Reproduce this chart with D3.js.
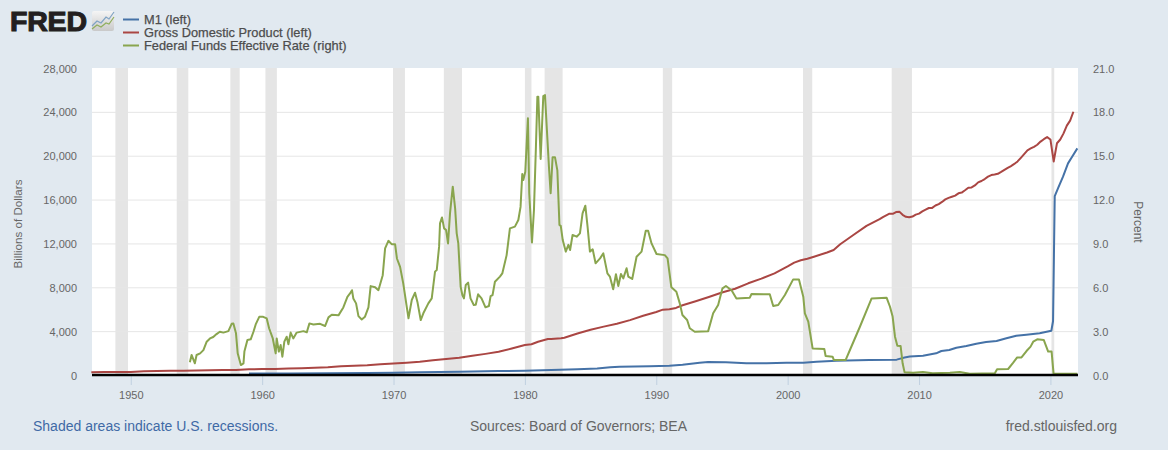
<!DOCTYPE html>
<html><head><meta charset="utf-8">
<script src="https://cdn.jsdelivr.net/npm/d3@7"></script>
<style>
html,body{margin:0;padding:0;background:#e1e9f0;overflow:hidden}
svg{display:block;font-family:"Liberation Sans",Arial,sans-serif}
</style></head><body><svg id="c" width="1168" height="450"></svg>
<script>
const yearTicks=[1950,1960,1970,1980,1990,2000,2010,2020];
const leftTicks=[0,4000,8000,12000,16000,20000,24000,28000];
const rightTicks=[0,3,6,9,12,15,18,21];
const legendLabels=["M1 (left)","Gross Domestic Product (left)","Federal Funds Effective Rate (right)"];
const seriesColors=["#4572a7","#aa4643","#89a54e"];
const recessions=[[1948.83,1949.79],[1953.5,1954.38],[1957.58,1958.29],[1960.25,1961.12],[1969.96,1970.87],[1973.83,1975.21],[1980,1980.5],[1981.5,1982.87],[1990.5,1991.21],[2001.17,2001.87],[2007.92,2009.46],[2020.08,2020.29]];
const m1=[[1959,139],[1962,147],[1965,165],[1968,190],[1970,207],[1972,240],[1975,290],[1978,355],[1980,385],[1982,445],[1984,530],[1985.5,590],[1986.5,700],[1987.2,745],[1989.5,790],[1991,850],[1992,942],[1993.3,1125],[1993.94,1180],[1995.3,1155],[1996.86,1070],[1998.4,1070],[1999.9,1125],[2001.2,1125],[2002.2,1200],[2003.7,1300],[2006.2,1370],[2008.3,1400],[2008.9,1590],[2009.3,1680],[2010.3,1763],[2011.3,1976],[2011.7,2190],[2012.3,2280],[2012.84,2490],[2013.6,2645],[2014.36,2858],[2015.1,3010],[2015.9,3100],[2016.65,3344],[2017.4,3587],[2018.17,3678],[2019.18,3800],[2020.07,4040],[2020.2,4900],[2020.33,16320],[2020.6,17100],[2020.96,18090],[2021.34,19300],[2021.7,20000],[2022.05,20670]];
const gdp=[[1947,243],[1948,266],[1949,275],[1949.75,272],[1950,281],[1951,336],[1952,360],[1953,386],[1954,391],[1955,415],[1956,440],[1957,464],[1958,466],[1959,514],[1960,543],[1961,545],[1962,590],[1963,622],[1964,671],[1965,713],[1966,792],[1967,835],[1968,890],[1969,983],[1970,1052],[1971,1127],[1972,1217],[1973,1349],[1974,1466],[1975,1569],[1976,1760],[1977,1926],[1978,2113],[1979,2420],[1980,2728],[1980.5,2800],[1981,3030],[1981.75,3280],[1982,3274],[1982.75,3344],[1983,3402],[1984,3785],[1985,4119],[1986,4412],[1987,4667],[1988,5008],[1989,5401],[1990,5747],[1990.5,5960],[1991,5996],[1991.5,6120],[1992,6363],[1993,6729],[1994,7116],[1995,7522],[1996,7868],[1997,8362],[1998,8787],[1999,9275],[2000,9901],[2000.5,10250],[2001,10470],[2001.5,10600],[2002,10783],[2003,11174],[2003.5,11400],[2004,11923],[2005,12767],[2006,13600],[2007,14216],[2007.25,14402],[2007.5,14564],[2007.75,14716],[2008,14706],[2008.25,14865],[2008.5,14899],[2008.75,14608],[2009,14430],[2009.25,14381],[2009.5,14449],[2009.75,14628],[2010,14721],[2010.25,14926],[2010.5,15080],[2010.75,15231],[2011,15242],[2011.25,15462],[2011.5,15588],[2011.75,15785],[2012,16019],[2012.25,16153],[2012.5,16257],[2012.75,16358],[2013,16569],[2013.25,16637],[2013.5,16848],[2013.75,17083],[2014,17105],[2014.25,17286],[2014.5,17570],[2014.75,17692],[2015,17874],[2015.25,18094],[2015.5,18231],[2015.75,18281],[2016,18350],[2016.25,18525],[2016.5,18712],[2016.75,18892],[2017,19057],[2017.25,19250],[2017.5,19477],[2017.75,19807],[2018,20145],[2018.25,20493],[2018.5,20660],[2018.75,20814],[2019,21002],[2019.25,21289],[2019.5,21506],[2019.75,21694],[2020,21481],[2020.25,19477],[2020.5,21139],[2020.75,21478],[2021,22038],[2021.25,22741],[2021.5,23202],[2021.75,24008]];
const ffr=[[1954.5,.87],[1954.63,1.37],[1954.88,.8],[1955.01,1.37],[1955.28,1.48],[1955.53,1.7],[1955.78,2.28],[1956.03,2.5],[1956.28,2.6],[1956.53,2.8],[1956.78,2.96],[1957.05,2.9],[1957.43,3],[1957.68,3.5],[1957.81,3.53],[1958.01,2.85],[1958.14,1.48],[1958.38,.68],[1958.58,.8],[1958.65,1.6],[1958.88,2.4],[1959.13,2.44],[1959.34,2.96],[1959.51,3.46],[1959.78,3.98],[1960.08,3.98],[1960.35,3.87],[1960.53,3.2],[1960.81,2.5],[1961.03,1.48],[1961.11,2.5],[1961.27,1.6],[1961.41,2.05],[1961.54,1.25],[1961.69,2.28],[1961.87,2.62],[1962,2.1],[1962.17,2.9],[1962.37,2.5],[1962.63,2.9],[1963.14,3],[1963.4,2.92],[1963.6,3.53],[1963.9,3.46],[1964.41,3.5],[1964.79,3.35],[1965.05,3.94],[1965.3,4.12],[1965.81,4.08],[1966.18,4.62],[1966.49,5.35],[1966.69,5.58],[1966.84,5.8],[1966.94,5.24],[1967.15,4.9],[1967.33,4.03],[1967.58,3.8],[1967.83,3.99],[1968.09,4.62],[1968.26,6.08],[1968.6,6],[1968.85,5.8],[1969.18,6.83],[1969.36,8.66],[1969.61,9.18],[1969.86,8.95],[1970.12,8.95],[1970.26,7.97],[1970.5,7.4],[1970.74,6.27],[1971.14,3.88],[1971.39,5.13],[1971.64,5.63],[1971.82,5],[1972.07,3.76],[1972.27,4.22],[1972.65,4.9],[1972.91,5.24],[1973.16,7.07],[1973.29,7.18],[1973.47,8.78],[1973.54,10.37],[1973.69,10.78],[1973.85,10.03],[1974,9.92],[1974.15,9],[1974.3,11.06],[1974.51,12.88],[1974.69,11.4],[1974.81,9.69],[1974.93,9],[1975.11,6.04],[1975.24,5.47],[1975.36,5.24],[1975.5,6.16],[1975.68,6.32],[1975.86,5.24],[1976.11,4.79],[1976.26,4.8],[1976.44,5.52],[1976.7,5.24],[1977,4.63],[1977.26,4.72],[1977.39,5.4],[1977.54,5.47],[1977.72,6.38],[1978.1,6.73],[1978.28,6.95],[1978.61,8.2],[1978.86,10.03],[1979.24,10.15],[1979.5,10.6],[1979.67,11.5],[1979.8,13.75],[1979.88,13.34],[1980.03,13.9],[1980.23,17.56],[1980.33,12.43],[1980.54,9.07],[1980.69,11.29],[1980.84,15.62],[1980.95,19.04],[1981.02,19.04],[1981.2,14.77],[1981.4,19.08],[1981.53,19.15],[1981.66,17],[1981.83,14.25],[1981.96,12.43],[1982.11,14.9],[1982.29,14.9],[1982.47,14],[1982.63,10.26],[1982.73,10.2],[1982.88,9.23],[1983.11,8.44],[1983.31,8.9],[1983.44,8.55],[1983.63,9.58],[1983.94,9.46],[1984.19,9.69],[1984.39,11.06],[1984.6,11.58],[1984.77,10.15],[1984.95,8.44],[1985.16,8.6],[1985.38,7.64],[1985.72,7.98],[1985.97,8.32],[1986.28,6.95],[1986.47,6.73],[1986.72,5.86],[1986.93,6.89],[1987.11,6.09],[1987.31,6.91],[1987.49,6.61],[1987.74,7.3],[1987.87,6.73],[1988.17,6.57],[1988.5,8.09],[1988.88,8.44],[1989.2,9.87],[1989.38,9.87],[1989.64,9],[1990.02,8.28],[1990.65,8.2],[1990.86,7.98],[1991.15,6],[1991.53,5.7],[1991.79,4.9],[1991.99,4.1],[1992.35,3.76],[1992.55,3.2],[1992.93,2.96],[1993.95,3],[1994.33,4.22],[1994.71,4.79],[1995.04,5.93],[1995.3,6.09],[1995.73,5.8],[1996.1,5.24],[1997.12,5.29],[1997.25,5.54],[1998.64,5.52],[1998.9,4.72],[1999.28,4.79],[1999.79,5.47],[2000.42,6.54],[2000.86,6.54],[2001.19,5.36],[2001.31,4.22],[2001.57,3.65],[2001.9,1.82],[2002.79,1.78],[2002.89,1.3],[2003.42,1.25],[2003.52,1.02],[2004.41,1.02],[2004.74,1.71],[2005.5,3.3],[2006.39,5.24],[2007.53,5.29],[2007.79,4.67],[2007.99,4],[2008.17,2.62],[2008.35,2],[2008.6,1.98],[2008.75,.8],[2008.9,.18],[2009.55,.15],[2010.3,.2],[2011.04,.12],[2012.35,.16],[2013.1,.2],[2013.86,.09],[2015.77,.12],[2015.94,.39],[2016.78,.41],[2017.17,.84],[2017.47,1.2],[2017.8,1.2],[2018.18,1.64],[2018.49,1.94],[2018.69,2.28],[2019,2.44],[2019.5,2.39],[2019.83,1.6],[2020.09,1.6],[2020.24,.1],[2021,.09],[2022.05,.08]];

const plot={l:92,r:1078,t:68,b:375};
const svg=d3.select("#c");
const x=d3.scaleLinear().domain([1947.05,2022.1]).range([plot.l,plot.r]);
const yL=d3.scaleLinear().domain([0,28000]).range([plot.b,plot.t]);
const yR=d3.scaleLinear().domain([0,21]).range([plot.b,plot.t]);
const ink="#666666";

svg.append("rect").attr("x",plot.l).attr("y",plot.t).attr("width",plot.r-plot.l).attr("height",plot.b-plot.t).attr("fill","#fff");
svg.append("g").selectAll("rect").data(recessions).join("rect")
 .attr("x",d=>x(d[0])).attr("width",d=>x(d[1])-x(d[0])).attr("y",plot.t).attr("height",plot.b-plot.t).attr("fill","#e5e5e5");

const gLeft=svg.append("g").attr("transform",`translate(${plot.l},0.5)`)
 .call(d3.axisLeft(yL).tickValues(leftTicks).tickSize(0).tickPadding(15).tickFormat(d3.format(",")));
const gRight=svg.append("g").attr("transform",`translate(${plot.r},0.5)`)
 .call(d3.axisRight(yR).tickValues(rightTicks).tickSize(0).tickPadding(15).tickFormat(d3.format(".1f")));
const gBot=svg.append("g").attr("transform",`translate(0,${plot.b})`)
 .call(d3.axisBottom(x).tickValues(yearTicks).tickSize(10).tickPadding(6).tickFormat(d3.format("d")));
[gLeft,gRight,gBot].forEach(g=>{g.select(".domain").remove();g.selectAll("text").attr("fill",ink).style("font-size","11px").style("font-family",'"Liberation Sans",Arial,sans-serif');});
gBot.selectAll("line").attr("stroke","#c0d0e0");
svg.append("g").selectAll("line").data(leftTicks.filter(d=>d>0&&d<28000)).join("line")
 .attr("x1",plot.l).attr("x2",plot.r).attr("y1",d=>yL(d)+.5).attr("y2",d=>yL(d)+.5).attr("stroke","#e6e6e6").attr("stroke-width",1);

const lineL=d3.line().x(d=>x(d[0])).y(d=>yL(d[1]));
const lineR=d3.line().x(d=>x(d[0])).y(d=>yR(d[1]));
const paths=svg.append("g").attr("fill","none").attr("stroke-width",2).attr("stroke-linejoin","round");
paths.append("path").attr("d",lineL(m1)).attr("stroke",seriesColors[0]);
paths.append("path").attr("d",lineL(gdp)).attr("stroke",seriesColors[1]);
paths.append("path").attr("d",lineR(ffr)).attr("stroke",seriesColors[2]);
svg.append("line").attr("x1",plot.l).attr("x2",plot.r).attr("y1",plot.b).attr("y2",plot.b).attr("stroke","#000").attr("stroke-width",2.5);

svg.append("text").attr("transform","translate(22,224) rotate(-90)").attr("text-anchor","middle").attr("fill",ink).style("font-size","11.6px").text("Billions of Dollars");
svg.append("text").attr("transform","translate(1134,222) rotate(90)").attr("text-anchor","middle").attr("fill",ink).style("font-size","12px").text("Percent");

const leg=svg.append("g").selectAll("g").data(legendLabels).join("g").attr("transform",(d,i)=>`translate(0,${[19.5,32.5,45.5][i]})`);
leg.append("line").attr("x1",123).attr("x2",139).attr("stroke",(d,i)=>seriesColors[i]).attr("stroke-width",2);
leg.append("text").attr("x",144).attr("y",4).attr("fill","#4d4d4d").style("font-size","12.8px").attr("stroke","#4d4d4d").attr("stroke-width",.25).text(d=>d);

svg.append("text").attr("x",10).attr("y",31).attr("fill","#231f20").attr("stroke","#231f20").attr("stroke-width",1.1).style("font-size","28.5px").style("font-weight","bold").attr("textLength",77).text("FRED");
const icon=svg.append("g");
const grad=svg.append("defs").append("linearGradient").attr("id","ig").attr("x1",0).attr("x2",0).attr("y1",0).attr("y2",1);
grad.append("stop").attr("offset",0).attr("stop-color","#f5f5f5");grad.append("stop").attr("offset",1).attr("stop-color","#c9c9c9");
icon.append("rect").attr("x",92).attr("y",11).attr("width",22).attr("height",20).attr("rx",2).attr("fill","url(#ig)");
icon.append("path").attr("d","M92 26L97 21L101 23L106 17L109 19L114 12").attr("fill","none").attr("stroke","#7fa3c4").attr("stroke-width",1.2);
icon.append("path").attr("d","M92 29L97 25L101 27L106 23L109 24L114 17").attr("fill","none").attr("stroke","#8fae5e").attr("stroke-width",1.2);

const foot=[["Shaded areas indicate U.S. recessions.",33,"start","#3f6aa6"],["Sources: Board of Governors; BEA",578.5,"middle","#666"],["fred.stlouisfed.org",1117,"end","#666"]];
svg.append("g").selectAll("text").data(foot).join("text").attr("x",d=>d[1]).attr("y",431).attr("text-anchor",d=>d[2]).attr("fill",d=>d[3]).style("font-size","14px").text(d=>d[0]);
</script></body></html>
